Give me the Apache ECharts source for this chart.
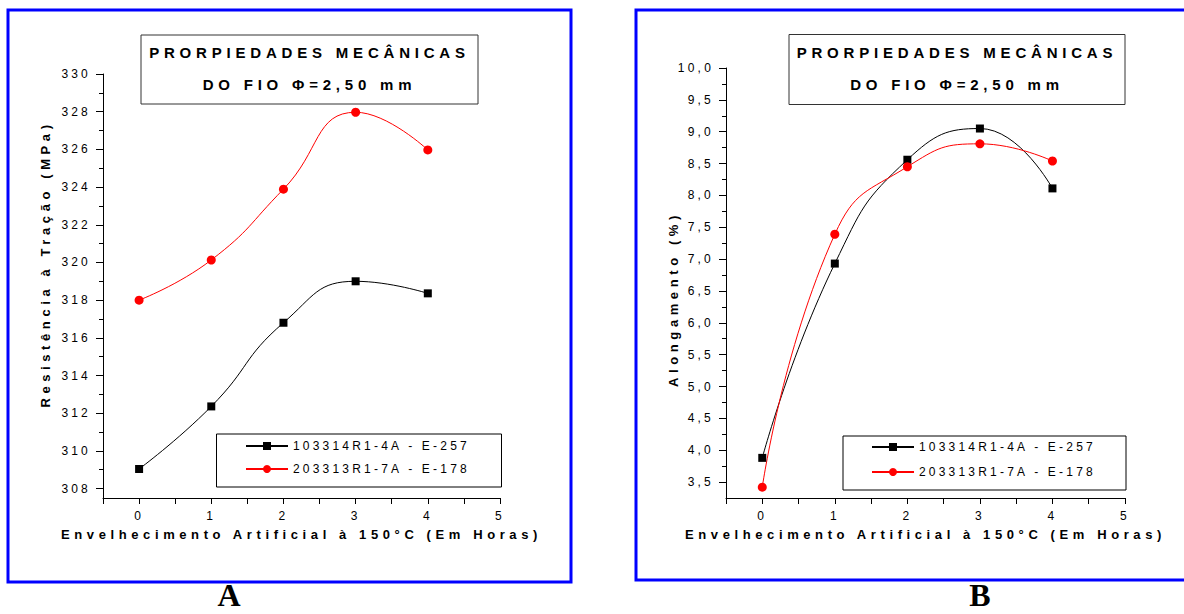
<!DOCTYPE html>
<html>
<head>
<meta charset="utf-8">
<script src="https://cdn.jsdelivr.net/npm/echarts@6/dist/echarts.min.js"></script>
<style>
  html, body { margin: 0; padding: 0; background: #fff; }
  #chart { width: 1184px; height: 614px; }
</style>
</head>
<body>
<div id="chart"></div>
<script>
// ---- data ----
const hours = [0, 1, 2, 3, 4];
const seriesNames = ['103314R1-4A - E-257', '203313R1-7A - E-178'];
const tensile103314 = [309.04, 312.36, 316.8, 319.0, 318.36];
const tensile203313 = [318.0, 320.13, 323.89, 327.97, 325.97];
const elong103314 = [3.88, 6.93, 8.56, 9.05, 8.11];
const elong203313 = [3.42, 7.39, 8.45, 8.81, 8.54];
const hourTicks = [0, 1, 2, 3, 4, 5];
const tensileTicks = [308, 310, 312, 314, 316, 318, 320, 322, 324, 326, 328, 330];
const elongTicks = [3.5, 4.0, 4.5, 5.0, 5.5, 6.0, 6.5, 7.0, 7.5, 8.0, 8.5, 9.0, 9.5, 10.0];
const titleText = 'PRORPIEDADES MECÂNICAS\nDO FIO \u03A6=2,50 mm';
const xName = 'Envelhecimento Artificial à 150°C (Em Horas)';
const yNameA = 'Resistência à Tração (MPa)';
const yNameB = 'Alongamento (%)';
const panelLabels = ['A', 'B'];

// ---- helpers ----
function midpoints(arr, before) {
  const step = arr[1] - arr[0];
  const out = [];
  if (before) out.push(arr[0] - step / 2);
  for (let i = 0; i < arr.length - 1; i++) out.push((arr[i] + arr[i + 1]) / 2);
  return out;
}
const xTickVals = hourTicks.concat(midpoints(hourTicks, true));
const pairs = (xs, ys) => xs.map((x, i) => [x, ys[i]]);
const FONT = 'Liberation Sans';

function xAxisCfg(grid) {
  return {
    type: 'value', gridIndex: grid, min: -0.5, max: 5,
    axisLine: { show: true, onZero: false, lineStyle: { color: '#000', width: 1 } },
    axisTick: { show: true, customValues: xTickVals, length: 6, lineStyle: { color: '#000' } },
    axisLabel: { customValues: hourTicks, margin: 12, fontSize: 12, color: '#000', fontFamily: FONT },
    splitLine: { show: false },
    name: xName, nameLocation: 'middle', nameGap: 30,
    nameTextStyle: { fontSize: 13, fontWeight: 'bold', color: '#000', fontFamily: FONT }
  };
}
function yMajor(grid, min, max, ticks, fmt, name, gap, pad) {
  return {
    type: 'value', gridIndex: grid, min: min, max: max, position: 'left',
    axisLine: { show: true, onZero: false, lineStyle: { color: '#000', width: 1 } },
    axisTick: { show: true, customValues: ticks, length: 7, lineStyle: { color: '#000' } },
    axisLabel: { customValues: ticks, margin: 12, fontSize: 12, color: '#000', fontFamily: FONT, formatter: fmt },
    splitLine: { show: false },
    name: name, nameLocation: 'middle', nameGap: gap,
    nameTextStyle: { fontSize: 13, fontWeight: 'bold', color: '#000', fontFamily: FONT, padding: pad }
  };
}
function yMinor(grid, min, max, ticks) {
  return {
    type: 'value', gridIndex: grid, min: min, max: max, position: 'left',
    axisLine: { show: false, onZero: false },
    axisTick: { show: true, customValues: midpoints(ticks, false), length: 4, lineStyle: { color: '#000' } },
    axisLabel: { show: false }, splitLine: { show: false }
  };
}
function lineSeries(name, xi, yi, ys, isRed) {
  return {
    type: 'line', name: name, xAxisIndex: xi, yAxisIndex: yi,
    data: pairs(hours, ys), smooth: 0.5,
    symbol: isRed ? 'circle' : 'rect', symbolSize: isRed ? 9 : 8,
    itemStyle: { color: isRed ? '#ff0000' : '#000000' },
    lineStyle: { color: isRed ? '#ff0000' : '#000000', width: 1 }
  };
}
function legendCfg(left, top, gap) {
  return {
    left: left, top: top, orient: 'vertical', padding: 0,
    itemWidth: 42, itemHeight: 10, itemGap: gap, data: seriesNames,
    textStyle: { fontSize: 12, color: '#000', fontFamily: FONT }
  };
}
function titleCfg(cx) {
  return {
    text: titleText, left: cx, top: 36, textAlign: 'center', padding: 0,
    textStyle: { fontSize: 15, fontWeight: 'bold', color: '#000', fontFamily: FONT, lineHeight: 32 }
  };
}
const commaFmt = v => v.toFixed(1).replace('.', ',');

const option = {
  animation: false,
  backgroundColor: '#ffffff',
  textStyle: { fontFamily: FONT },
  title: [titleCfg(309.5), titleCfg(957)],
  legend: [legendCfg(245, 440, 11), legendCfg(871, 441, 13)],
  grid: [
    { left: 103, top: 74, width: 397, height: 424 },
    { left: 726, top: 68, width: 399, height: 430 }
  ],
  xAxis: [xAxisCfg(0), xAxisCfg(1)],
  yAxis: [
    yMajor(0, 307.5, 330, tensileTicks, v => String(v), yNameA, 51, [0, 0, 0, 44]),
    yMinor(0, 307.5, 330, tensileTicks),
    yMajor(1, 3.25, 10, elongTicks, commaFmt, yNameB, 46, [0, 32, 0, 0]),
    yMinor(1, 3.25, 10, elongTicks)
  ],
  series: [
    lineSeries(seriesNames[0], 0, 0, tensile103314, false),
    lineSeries(seriesNames[1], 0, 0, tensile203313, true),
    lineSeries(seriesNames[0], 1, 2, elong103314, false),
    lineSeries(seriesNames[1], 1, 2, elong203313, true)
  ],
  graphic: [
    { type: 'rect', shape: { x: 8, y: 10, width: 563, height: 572 }, style: { fill: 'none', stroke: '#0000ff', lineWidth: 3 } },
    { type: 'rect', shape: { x: 636, y: 10, width: 560, height: 570 }, style: { fill: 'none', stroke: '#0000ff', lineWidth: 3 } },
    { type: 'rect', shape: { x: 141, y: 35, width: 337, height: 69 }, style: { fill: 'none', stroke: '#333', lineWidth: 1 } },
    { type: 'rect', shape: { x: 789, y: 34.5, width: 336, height: 70 }, style: { fill: 'none', stroke: '#333', lineWidth: 1 } },
    { type: 'rect', shape: { x: 216.5, y: 434, width: 285, height: 53 }, style: { fill: 'none', stroke: '#000', lineWidth: 1 } },
    { type: 'rect', shape: { x: 843, y: 436, width: 283, height: 54 }, style: { fill: 'none', stroke: '#000', lineWidth: 1 } },
    { type: 'text', x: 229, y: 611, style: { text: panelLabels[0], font: 'bold 32px "Liberation Serif"', fill: '#000', align: 'center', verticalAlign: 'bottom' } },
    { type: 'text', x: 980, y: 611, style: { text: panelLabels[1], font: 'bold 32px "Liberation Serif"', fill: '#000', align: 'center', verticalAlign: 'bottom' } }
  ]
};

const chart = echarts.init(document.getElementById('chart'), null, { renderer: 'svg' });
chart.setOption(option);

function applySpacing() {
  document.querySelectorAll('#chart text').forEach(t => {
    const cs = getComputedStyle(t);
    const fs = parseFloat(cs.fontSize);
    const fw = cs.fontWeight;
    const bold = fw === 'bold' || parseInt(fw, 10) >= 600;
    let ls;
    if (fs >= 20) ls = 0;
    else if (fs >= 14) ls = 4.8;
    else if (bold) ls = 4.6;
    else ls = 3.2;
    t.style.letterSpacing = ls + 'px';
  });
}
applySpacing();
chart.on('finished', applySpacing);
setTimeout(applySpacing, 50);
</script>
</body>
</html>
